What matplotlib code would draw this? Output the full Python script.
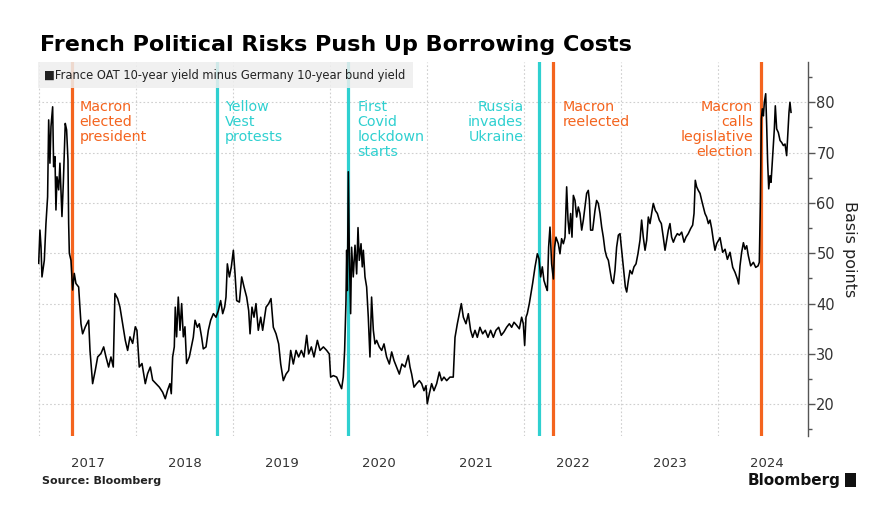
import matplotlib
matplotlib.use('Agg')
import matplotlib.pyplot as plt
import matplotlib.transforms as mtransforms
from matplotlib.patches import Rectangle
from matplotlib.ticker import FixedLocator, MultipleLocator, NullFormatter

# France OAT 10y minus German bund 10y, basis points (decimal year, value)
dates = [
    2016.997, 2017.010, 2017.021, 2017.031, 2017.055, 2017.072, 2017.089, 2017.100, 2017.113, 2017.124,
    2017.141, 2017.151, 2017.165, 2017.175, 2017.186, 2017.203, 2017.216, 2017.237, 2017.251, 2017.271,
    2017.285, 2017.299, 2017.306, 2017.313, 2017.330, 2017.347, 2017.364, 2017.381, 2017.409, 2017.433,
    2017.450, 2017.478, 2017.512, 2017.526, 2017.553, 2017.581, 2017.605, 2017.639, 2017.667, 2017.691,
    2017.718, 2017.742, 2017.766, 2017.783, 2017.811, 2017.835, 2017.862, 2017.890, 2017.914, 2017.938,
    2017.966, 2017.993, 2018.010, 2018.034, 2018.062, 2018.096, 2018.120, 2018.148, 2018.172, 2018.206,
    2018.241, 2018.275, 2018.302, 2018.326, 2018.350, 2018.364, 2018.378, 2018.395, 2018.405, 2018.419,
    2018.436, 2018.454, 2018.471, 2018.488, 2018.505, 2018.522, 2018.550,
    2018.591, 2018.609, 2018.633, 2018.653, 2018.677, 2018.694, 2018.722, 2018.746, 2018.770, 2018.798,
    2018.825, 2018.849, 2018.873, 2018.894, 2018.914, 2018.928, 2018.942, 2018.963, 2018.983, 2019.004,
    2019.021, 2019.038, 2019.066, 2019.090, 2019.114, 2019.141, 2019.162, 2019.176, 2019.196, 2019.217,
    2019.237, 2019.261, 2019.286, 2019.306, 2019.341, 2019.368, 2019.392, 2019.416, 2019.444, 2019.471,
    2019.492, 2019.519, 2019.547, 2019.574, 2019.595, 2019.622, 2019.650, 2019.677, 2019.705, 2019.732,
    2019.760, 2019.780, 2019.808, 2019.835, 2019.870, 2019.897, 2019.932, 2019.966, 2019.993, 2020.007,
    2020.035, 2020.069, 2020.097,
    2020.120, 2020.137, 2020.151, 2020.165, 2020.172, 2020.179, 2020.189, 2020.199, 2020.213, 2020.223,
    2020.240, 2020.258, 2020.275, 2020.289, 2020.302, 2020.320, 2020.333, 2020.344, 2020.361, 2020.378,
    2020.395, 2020.412, 2020.429, 2020.447, 2020.464, 2020.481, 2020.508, 2020.533, 2020.557, 2020.584,
    2020.612, 2020.636, 2020.660, 2020.687, 2020.715, 2020.742, 2020.773, 2020.807, 2020.825, 2020.842,
    2020.866, 2020.893, 2020.921, 2020.945, 2020.969, 2020.990, 2021.003, 2021.024, 2021.048, 2021.072,
    2021.100, 2021.127, 2021.151, 2021.175, 2021.203, 2021.237, 2021.271, 2021.289, 2021.313, 2021.333,
    2021.354, 2021.375, 2021.402, 2021.426, 2021.450, 2021.471, 2021.495, 2021.519, 2021.546, 2021.574,
    2021.601, 2021.629, 2021.656, 2021.684, 2021.711, 2021.739, 2021.766, 2021.794, 2021.821, 2021.849,
    2021.873, 2021.897, 2021.924, 2021.952, 2021.976, 2021.993, 2022.007, 2022.021, 2022.034, 2022.055,
    2022.089, 2022.114, 2022.138, 2022.155, 2022.172, 2022.189, 2022.206, 2022.227, 2022.241, 2022.254,
    2022.268, 2022.285, 2022.303, 2022.316, 2022.330, 2022.354, 2022.371, 2022.388, 2022.406, 2022.423,
    2022.440, 2022.454, 2022.467, 2022.481, 2022.495, 2022.509, 2022.526, 2022.543, 2022.560, 2022.577,
    2022.595, 2022.612, 2022.629, 2022.646, 2022.663, 2022.674, 2022.687, 2022.708, 2022.732, 2022.749,
    2022.766, 2022.784, 2022.801, 2022.818, 2022.835, 2022.852, 2022.870, 2022.887, 2022.904, 2022.921,
    2022.938, 2022.955, 2022.973, 2022.990, 2023.007, 2023.024, 2023.045, 2023.059, 2023.076, 2023.093,
    2023.114, 2023.134, 2023.155, 2023.175, 2023.196, 2023.213, 2023.230, 2023.248, 2023.265, 2023.282,
    2023.299, 2023.316, 2023.333, 2023.354, 2023.375, 2023.395, 2023.416, 2023.436, 2023.454, 2023.471,
    2023.488, 2023.505, 2023.522, 2023.540, 2023.560, 2023.581, 2023.602, 2023.626, 2023.650, 2023.670,
    2023.694, 2023.718, 2023.739, 2023.753, 2023.766, 2023.780, 2023.797, 2023.815, 2023.832, 2023.849,
    2023.866, 2023.883, 2023.901, 2023.918, 2023.935, 2023.952, 2023.969, 2023.986,
    2024.021, 2024.048, 2024.073, 2024.097, 2024.124, 2024.152, 2024.176, 2024.200, 2024.213, 2024.227,
    2024.244, 2024.262, 2024.279, 2024.296, 2024.313, 2024.337, 2024.365, 2024.389, 2024.413, 2024.426,
    2024.437, 2024.447, 2024.457, 2024.468, 2024.478, 2024.492, 2024.502, 2024.512, 2024.523, 2024.536,
    2024.547, 2024.560, 2024.571, 2024.581, 2024.591, 2024.605, 2024.622, 2024.640, 2024.657, 2024.674,
    2024.691, 2024.708, 2024.719, 2024.732, 2024.742, 2024.753,
]
spread = [
    48.0, 54.6, 51.3, 45.3, 48.6, 55.9, 61.2, 76.5, 67.9, 75.2,
    79.1, 67.2, 69.2, 58.6, 65.2, 62.6, 67.9, 57.3, 63.9, 75.8,
    74.5, 68.5, 55.9, 50.0, 48.6, 42.7, 46.0, 44.0, 43.3, 36.0,
    34.0, 35.4, 36.7, 30.7, 24.1, 26.8, 29.4, 30.1, 31.4, 29.4,
    27.4, 29.4, 27.4, 42.0, 41.0, 39.3, 36.0, 32.7, 30.7, 33.4,
    32.1, 35.4, 34.7, 27.4, 28.1, 24.1, 26.1, 27.4, 24.8, 24.1,
    23.4, 22.4, 21.1, 22.8, 24.1, 22.1, 29.4, 31.4, 39.3, 33.4,
    41.3, 34.7, 40.0, 33.4, 35.4, 28.1, 29.4,
    33.3, 36.7, 35.3, 36.0, 33.3, 31.0, 31.4, 34.7, 36.7, 38.0,
    37.3, 38.6, 40.6, 38.0, 39.3, 41.3, 47.9, 45.3, 47.3, 50.6,
    46.0, 40.6, 40.3, 45.3, 43.3, 41.3, 38.6, 34.0, 39.3, 37.3,
    40.0, 34.7, 37.3, 34.7, 39.3, 40.0, 41.0, 35.3, 34.0, 32.0,
    28.0, 24.7, 26.0, 26.7, 30.7, 28.0, 30.7, 29.4, 30.7, 29.4,
    33.7, 30.0, 31.4, 29.4, 32.7, 30.7, 31.4, 30.7, 30.0, 25.4,
    25.7, 25.4, 24.1,
    23.1, 25.4, 30.7, 40.6, 50.6, 42.6, 66.2, 50.6, 38.0, 51.2,
    45.3, 51.6, 45.9, 55.1, 48.6, 51.9, 47.3, 50.6, 45.3, 43.3,
    37.3, 29.4, 41.3, 34.7, 32.0, 32.7, 31.4, 30.7, 32.0, 29.4,
    28.0, 30.4, 28.7, 27.4, 26.0, 28.0, 27.4, 29.7, 27.4, 26.0,
    23.4, 24.1, 24.7, 24.1, 22.7, 23.7, 20.1, 22.1, 24.1, 22.7,
    24.1, 26.4, 24.7, 25.4, 24.7, 25.4, 25.4, 33.3, 36.0, 38.0,
    40.0, 37.3, 36.0, 38.0, 34.7, 33.3, 34.7, 33.3, 35.3, 34.0,
    34.7, 33.3, 34.7, 33.3, 34.7, 35.3, 33.7, 34.4, 35.3, 36.0,
    35.3, 36.3, 35.7, 35.0, 37.3, 36.0, 31.7, 37.3, 38.0, 40.0,
    44.0, 47.3, 49.9, 48.9, 45.3, 47.3, 44.6, 43.3, 42.6, 51.2,
    55.2, 47.9, 44.9, 51.2, 53.2, 51.9, 49.9, 52.9, 51.9, 53.2,
    63.2, 56.6, 53.9, 57.9, 53.2, 61.5, 60.5, 57.2, 59.2, 57.9,
    54.6, 56.6, 59.2, 61.9, 62.5, 60.5, 54.6, 54.6, 58.5, 60.5,
    59.9, 57.9, 55.2, 53.2, 50.6, 49.3, 48.6, 46.6, 44.6, 44.0,
    46.6, 51.2, 53.6, 53.9, 50.6, 47.3, 43.3, 42.3, 44.6, 46.6,
    45.9, 47.3, 47.9, 49.9, 52.6, 56.6, 53.2, 50.6, 52.6, 57.2,
    55.9, 57.9, 59.9, 58.5, 57.9, 56.6, 55.9, 53.2, 50.6, 52.6,
    54.6, 55.9, 53.2, 52.2, 53.2, 53.9, 53.6, 54.2, 52.2, 53.2,
    53.9, 54.9, 55.6, 57.9, 64.5, 63.2, 62.5, 61.9, 60.5, 59.2,
    57.9, 57.2, 55.9, 56.6, 54.9, 52.6, 50.6, 51.9,
    53.1, 50.2, 50.8, 48.8, 50.2, 47.2, 46.2, 44.9, 43.9, 47.5,
    50.2, 52.1, 50.8, 51.5, 49.5, 47.5, 48.2, 47.2, 47.5, 48.2,
    60.1, 76.7, 78.7, 77.3, 80.0, 81.7, 75.4, 68.1, 62.8, 65.4,
    64.1, 68.1, 71.4, 74.7, 79.3, 74.7, 74.0, 72.4, 72.0, 71.4,
    71.7, 69.4, 73.4, 78.0, 80.0, 78.0,
]

event_dates = [2017.34, 2018.84, 2020.19, 2022.15, 2022.30, 2024.44]
event_labels = ['Macron\nelected\npresident', 'Yellow\nVest\nprotests',
                'First\nCovid\nlockdown\nstarts', 'Russia\ninvades\nUkraine',
                'Macron\nreelected', 'Macron\ncalls\nlegislative\nelection']
event_kind = ['politics', 'other', 'other', 'other', 'politics', 'politics']
year_labels = ['2017', '2018', '2019', '2020', '2021', '2022', '2023', '2024']

ORANGE = '#F4641E'
CYAN = '#2FD0D0'
colors = {'politics': ORANGE, 'other': CYAN}
# label left or right of the line, offset in points
text_side = ['left', 'left', 'left', 'right', 'left', 'right']
text_dx = [5.5, 5.5, 6.5, -11, 7, -5.5]

fig = plt.figure(figsize=(8.96, 5.12), dpi=100)
ax = fig.add_axes([38 / 896, 76 / 512, 770 / 896, 374 / 512])

ax.plot(dates, spread, color='black', lw=1.15, zorder=3)

trans = mtransforms.blended_transform_factory(ax.transData, ax.transAxes)
for d, lab, k, side, dx in zip(event_dates, event_labels, event_kind, text_side, text_dx):
    c = colors[k]
    ax.axvline(d, color=c, lw=2.3, zorder=2)
    ax.annotate(lab, xy=(d, 0.898), xycoords=trans, xytext=(dx, 0), textcoords='offset points',
                ha=side, va='top', color=c, fontsize=10.3, linespacing=1.1, zorder=4)

ax.set_xlim(2016.99, 2024.928)
ax.set_ylim(13.7, 88)

# legend strip
ax.add_patch(Rectangle((0, 0.93), 0.487, 0.07, transform=ax.transAxes,
                       facecolor='#eeeeee', edgecolor='none', alpha=0.85, zorder=5))
ax.text(0.008, 0.965, '\u25a0France OAT 10-year yield minus Germany 10-year bund yield',
        transform=ax.transAxes, fontsize=8.3, va='center', ha='left', color='#222222', zorder=6)

# axes styling
for s in ['left', 'top', 'bottom']:
    ax.spines[s].set_visible(False)
ax.spines['right'].set_color('#555555')
ax.spines['right'].set_linewidth(1.0)

ax.yaxis.tick_right()
ax.yaxis.set_major_locator(FixedLocator([20, 30, 40, 50, 60, 70, 80]))
ax.yaxis.set_minor_locator(MultipleLocator(5))
ax.tick_params(axis='y', which='major', length=5, width=1, color='#555555',
               labelsize=10.5, labelcolor='#333333', pad=1)
ax.tick_params(axis='y', which='minor', length=3, width=1, color='#555555')
ax.yaxis.set_label_position('right')
ax.set_ylabel('Basis points', rotation=270, fontsize=11.5, color='#222222', labelpad=16)

ax.xaxis.set_major_locator(FixedLocator(range(2017, 2025)))
ax.xaxis.set_major_formatter(NullFormatter())
ax.xaxis.set_minor_locator(FixedLocator([y + 0.5 for y in range(2017, 2025)]))
ax.set_xticklabels(year_labels, minor=True)
ax.tick_params(axis='x', which='both', length=0, pad=15, labelsize=9.5, labelcolor='#333333')

ax.grid(True, which='major', axis='both', color='#cfcfcf', ls=(0, (1.5, 2)), lw=0.8, zorder=0)

fig.text(40 / 896, 1 - 45 / 512, 'French Political Risks Push Up Borrowing Costs',
         fontsize=16, fontweight='bold', va='center', ha='left', color='black')
fig.text(42 / 896, 1 - 481 / 512, 'Source: Bloomberg', fontsize=8, fontweight='bold',
         va='center', ha='left', color='#222222')
fig.text(840 / 896, 1 - 480 / 512, 'Bloomberg', fontsize=11, fontweight='bold',
         va='center', ha='right', color='#111111')
fig.patches.append(Rectangle((845 / 896, 1 - 487 / 512), 11 / 896, 14 / 512,
                             transform=fig.transFigure, facecolor='#111111', edgecolor='none'))

fig.savefig('out.png', dpi=100)
